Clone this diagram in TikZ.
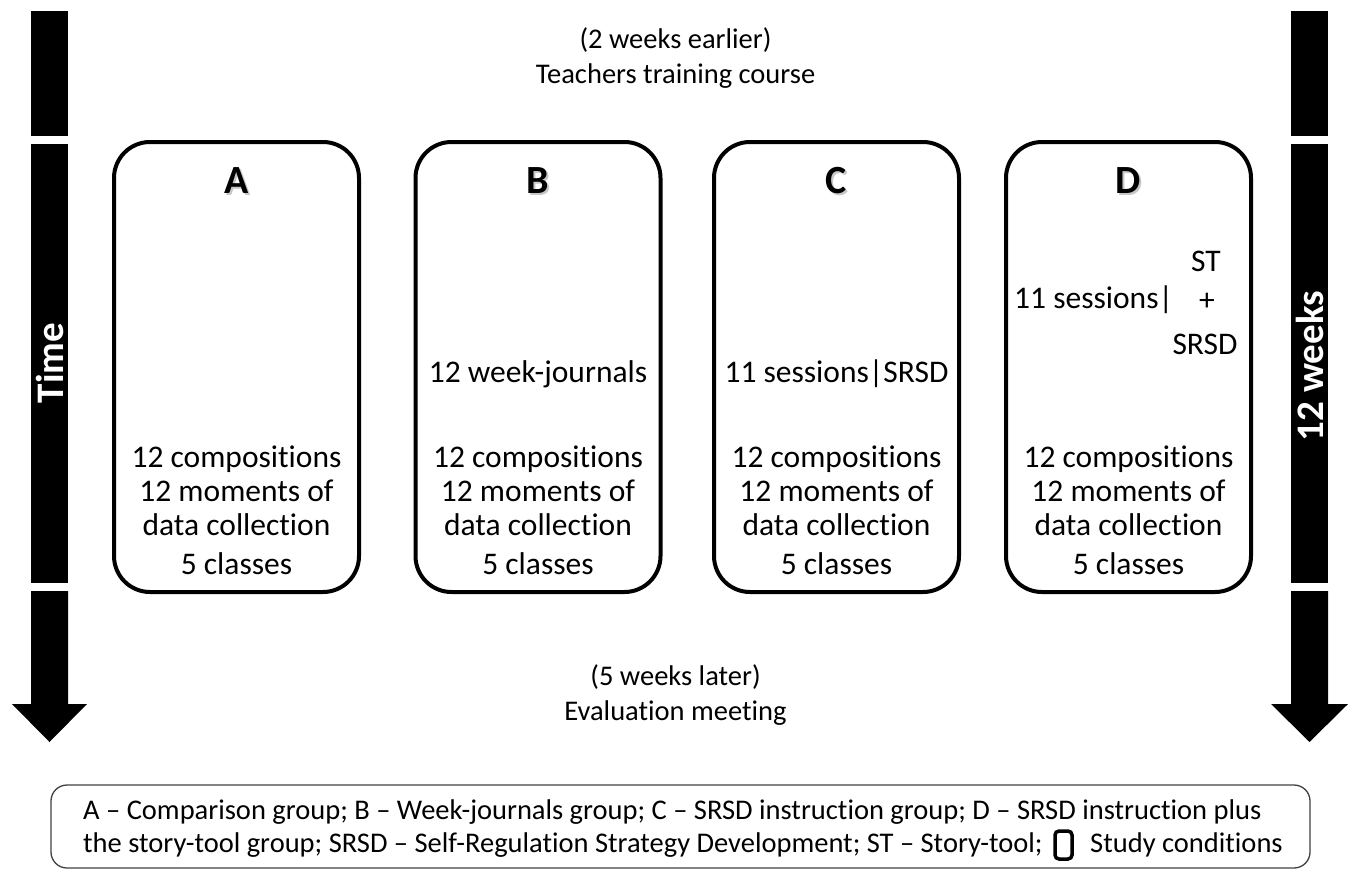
\documentclass[tikz,border=0pt]{standalone}
\usepackage{fontspec}
\setmainfont{Carlito}[Ligatures=NoCommon]
\begin{document}
\begin{tikzpicture}[x=1pt,y=-1pt,
  cond/.style={draw, line width=4pt, rounded corners=36pt, minimum width=245pt, minimum height=450pt, inner sep=0pt},
  txt/.style={font=\fontsize{31.5}{36}\selectfont, anchor=base, inner sep=0pt},
  ttl/.style={font=\fontsize{28.5}{34}\selectfont, anchor=base, inner sep=0pt},
  hdr/.style={font=\fontsize{40}{46}\selectfont\bfseries, anchor=base, inner sep=0pt},
  hdrshadow/.style={hdr, text=black!22},
  side/.style={font=\fontsize{39}{44}\selectfont\bfseries, text=white, rotate=90, inner sep=0pt},
  leg/.style={font=\fontsize{28.5}{33}\selectfont, anchor=base west, inner sep=0pt},
  bar/.style={fill=black, draw=none}
]
\useasboundingbox (0,0) rectangle (1351,872);

% time arrows
\fill[bar] (31,11) rectangle (68,136);
\fill[bar] (31,144) rectangle (68,583);
\fill[bar] (31,591) -- (68,591) -- (68,704) -- (87,704) -- (49.5,742) -- (12,704) -- (31,704) -- cycle;
\fill[bar] (1291,11) rectangle (1328,136);
\fill[bar] (1291,144) rectangle (1328,583);
\fill[bar] (1291,591) -- (1328,591) -- (1328,704) -- (1348,704) -- (1309.5,742) -- (1271,704) -- (1291,704) -- cycle;
\node[side] (time) at (49.5,363) {Time};
\node[side] (weeks) at (1309.5,366) {12 weeks};

% top and bottom texts
\node[ttl] (pre1) at (675.5,49) {(2 weeks earlier)};
\node[ttl] (pre2) at (675.5,84) {Teachers training course};
\node[ttl] (post1) at (675.5,685) {(5 weeks later)};
\node[ttl] (post2) at (675.5,720) {Evaluation meeting};

% condition boxes
\node[cond] (A) at (236.5,367) {};
\node[cond] (B) at (538,367) {};
\node[cond] (C) at (836.5,367) {};
\node[cond] (D) at (1128.5,367) {};

\foreach \n/\x in {A/236.5,B/538,C/836.5,D/1128.5}{
  \node[hdrshadow] at (\x+2,195) {\n};
  \node[hdr] (h\n) at (\x,193) {\n};
  \node[txt] (comp\n) at (\x,467) {12 compositions};
  \node[txt] (mom\n) at (\x,501) {12 moments of};
  \node[txt] (data\n) at (\x,535) {data collection};
  \node[txt] (cls\n) at (\x,574) {5 classes};
}
\node[txt] (wj) at (538,382) {12 week-journals};
\node[txt] (sessC) at (836.5,382) {11 sessions|SRSD};
\node[txt, anchor=base west] (sessD) at (1014,308) {11 sessions|};
\node[txt] (stD) at (1206,271) {ST};
\node[txt] (plusD) at (1207,310) {+};
\node[txt] (srsdD) at (1205,354) {SRSD};

% legend
\draw[line width=1.3pt, draw=black!75, rounded corners=16pt] (51,785) rectangle (1310,868);
\node[leg] (leg1) at (83,819) {A – Comparison group; B – Week-journals group; C – SRSD instruction group; D – SRSD instruction plus};
\node[leg] (leg2) at (83,852) {the story-tool group; SRSD – Self-Regulation Strategy Development; ST – Story-tool;};
\draw[line width=3.5pt, rounded corners=4pt] (1055,831) rectangle (1072,859);
\node[leg] (leg3) at (1090,852) {Study conditions};
\end{tikzpicture}
\end{document}
